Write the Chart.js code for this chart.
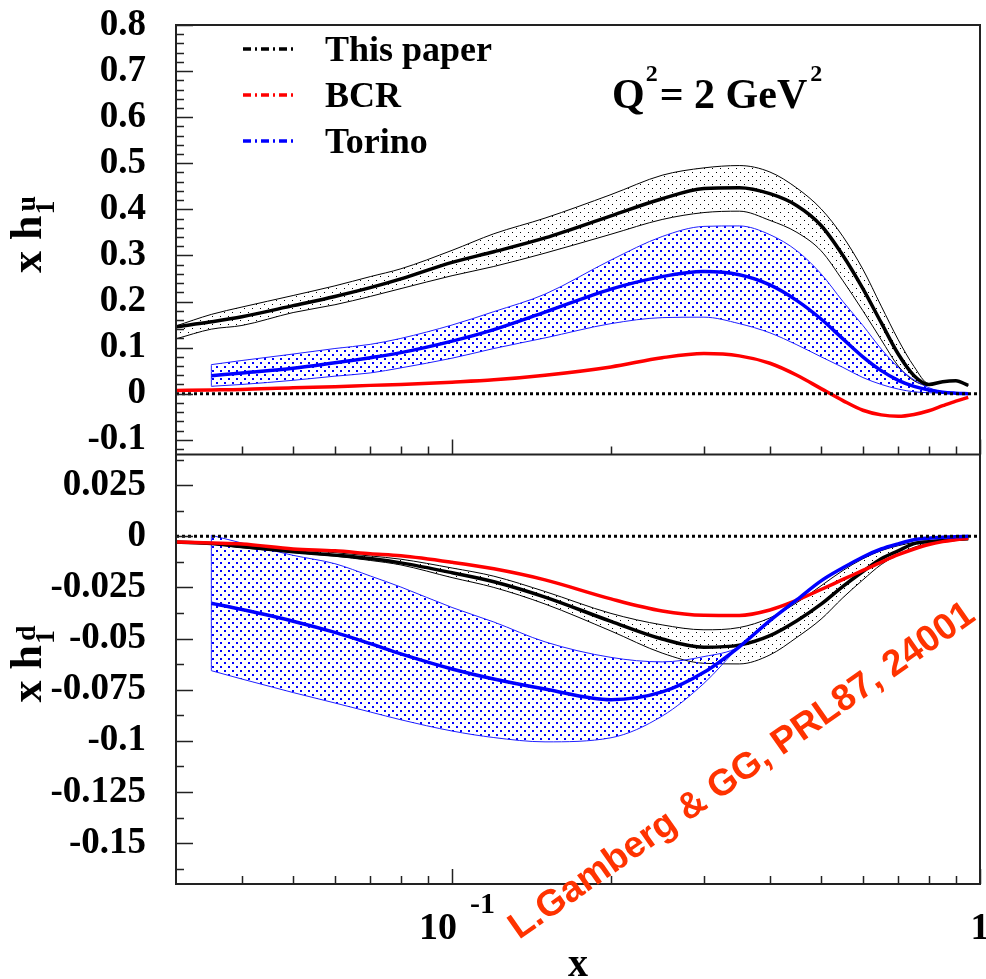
<!DOCTYPE html>
<html>
<head>
<meta charset="utf-8">
<script src="https://cdn.jsdelivr.net/npm/chart.js@4.4.1/dist/chart.umd.min.js"></script>
<style>
  html, body { margin: 0; padding: 0; background: #fff; }
  #wrap { width: 986px; height: 979px; }
</style>
</head>
<body>
<div id="wrap"><canvas id="chart" width="986" height="979"></canvas></div>
<script>
// x values (Bjorken x) shared by the curves
const xGrid = [0.03, 0.035, 0.04, 0.05, 0.06, 0.07, 0.08, 0.1, 0.12, 0.15, 0.2, 0.25, 0.3, 0.35,
               0.4, 0.45, 0.5, 0.55, 0.6, 0.65, 0.7, 0.75, 0.8, 0.85, 0.9, 0.95];
const xTorino = xGrid.slice(1);
const xRange = [0.03, 1];

// upper panel: x h1^u
const thisU   = [0.145, 0.156, 0.167, 0.191, 0.211, 0.230, 0.249, 0.285, 0.308, 0.338, 0.386, 0.423, 0.445, 0.447,
                 0.434, 0.408, 0.365, 0.300, 0.228, 0.154, 0.086, 0.039, 0.020, 0.026, 0.028, 0.018];
const thisUHi = [0.147, 0.172, 0.188, 0.213, 0.234, 0.254, 0.271, 0.311, 0.347, 0.381, 0.432, 0.474, 0.490, 0.495,
                 0.481, 0.446, 0.401, 0.341, 0.270, 0.190, 0.117, 0.059, 0.022, 0.026, 0.028, 0.018];
const thisULo = [0.119, 0.140, 0.148, 0.176, 0.193, 0.211, 0.228, 0.256, 0.276, 0.305, 0.346, 0.378, 0.393, 0.396,
                 0.376, 0.350, 0.310, 0.245, 0.180, 0.117, 0.060, 0.028, 0.018, 0.026, 0.028, 0.018];
const bcrU    = [0.007, 0.008, 0.009, 0.013, 0.015, 0.018, 0.020, 0.025, 0.030, 0.040, 0.058, 0.078, 0.087, 0.082,
                 0.066, 0.040, 0.011, -0.015, -0.036, -0.046, -0.049, -0.045, -0.037, -0.026, -0.016, -0.008];
const torU    = [0.039, 0.045, 0.055, 0.067, 0.078, 0.089, 0.114, 0.139, 0.177, 0.227, 0.254, 0.265, 0.258,
                 0.236, 0.202, 0.162, 0.119, 0.080, 0.050, 0.029, 0.016, 0.008, 0.003, 0.001, 0.000];
const torUHi  = [0.063, 0.072, 0.086, 0.098, 0.107, 0.120, 0.149, 0.178, 0.216, 0.290, 0.341, 0.363, 0.364,
                 0.345, 0.310, 0.260, 0.200, 0.148, 0.097, 0.057, 0.030, 0.013, 0.004, 0.001, 0.000];
const torULo  = [0.016, 0.020, 0.029, 0.038, 0.045, 0.056, 0.077, 0.098, 0.121, 0.152, 0.165, 0.166, 0.152,
                 0.132, 0.106, 0.080, 0.057, 0.035, 0.020, 0.010, 0.004, 0.002, 0.001, 0.000, 0.000];

// lower panel: x h1^d
const thisD   = [-0.0028, -0.0035, -0.0050, -0.0075, -0.0092, -0.0109, -0.0130, -0.0178, -0.0222, -0.0297, -0.0416, -0.0502, -0.0542, -0.0532,
                 -0.0486, -0.0413, -0.0332, -0.0245, -0.0172, -0.0110, -0.0071, -0.0036, -0.0026, -0.0020, -0.0015, -0.0012];
const thisDHi = [-0.0025, -0.0031, -0.0040, -0.0065, -0.0080, -0.0096, -0.0112, -0.0155, -0.0195, -0.0270, -0.0377, -0.0433, -0.0457, -0.0446,
                 -0.0399, -0.0324, -0.0242, -0.0167, -0.0110, -0.0070, -0.0046, -0.0030, -0.0022, -0.0020, -0.0015, -0.0012];
const thisDLo = [-0.0031, -0.0039, -0.0056, -0.0079, -0.0097, -0.0118, -0.0140, -0.0202, -0.0250, -0.0331, -0.0463, -0.0571, -0.0621, -0.0624,
                 -0.0580, -0.0494, -0.0405, -0.0300, -0.0213, -0.0138, -0.0090, -0.0054, -0.0035, -0.0024, -0.0016, -0.0012];
const bcrD    = [-0.0028, -0.0033, -0.0038, -0.0062, -0.0071, -0.0085, -0.0095, -0.0127, -0.0159, -0.0213, -0.0306, -0.0365, -0.0386, -0.0387,
                 -0.0360, -0.0312, -0.0260, -0.0211, -0.0167, -0.0126, -0.0090, -0.0062, -0.0040, -0.0026, -0.0017, -0.0010];
const torD    = [-0.0327, -0.0358, -0.0415, -0.0470, -0.0525, -0.0575, -0.0649, -0.0698, -0.0747, -0.0799, -0.0761, -0.0665, -0.0540,
                 -0.0412, -0.0310, -0.0218, -0.0154, -0.0101, -0.0062, -0.0037, -0.0017, -0.0009, -0.0005, -0.0002, 0];
const torDHi  = [0.0005, -0.0033, -0.0093, -0.0134, -0.0194, -0.0248, -0.0348, -0.0419, -0.0516, -0.0592, -0.0614, -0.0588, -0.0540,
                 -0.0412, -0.0310, -0.0218, -0.0154, -0.0101, -0.0062, -0.0037, -0.0017, -0.0009, -0.0005, -0.0002, 0];
const torDLo  = [-0.0657, -0.0698, -0.0764, -0.0815, -0.0859, -0.0897, -0.0952, -0.0984, -0.1005, -0.0985, -0.0879, -0.0719, -0.0540,
                 -0.0412, -0.0310, -0.0218, -0.0154, -0.0101, -0.0062, -0.0037, -0.0017, -0.0009, -0.0005, -0.0002, 0];

// axis ticks
const xMajorTicks = [0.1, 1];
const xMinorTicks = [0.04, 0.05, 0.06, 0.07, 0.08, 0.09, 0.2, 0.3, 0.4, 0.5, 0.6, 0.7, 0.8, 0.9];
const legendNames = ['This paper', 'BCR', 'Torino'];

const SERIF = "'Liberation Serif', 'Times New Roman', serif";
const SANS = "'Liberation Sans', Arial, sans-serif";

function makePattern(color, size, dots, dot) {
    const c = document.createElement('canvas');
    c.width = size;
    c.height = size;
    const g = c.getContext('2d');
    g.fillStyle = color;
    dots.forEach(([px, py]) => g.fillRect(px, py, dot, dot));
    return g.createPattern(c, 'repeat');
}
const blueHatch = makePattern('#0000ff', 8, [[0, 6], [4, 2]], 2);
const blackHatch = makePattern('#000000', 8, [[0, 0], [4, 4]], 1);

function pts(xs, ys) {
    return xs.map((x, i) => ({ x: x, y: ys[i] }));
}

function curve(label, data, yAxisID, color, width, order, extra) {
    return Object.assign({
        label: label,
        data: data,
        xAxisID: 'x',
        yAxisID: yAxisID,
        borderColor: color,
        backgroundColor: color,
        borderWidth: width,
        pointRadius: 0,
        fill: false,
        order: order,
        cubicInterpolationMode: 'monotone'
    }, extra || {});
}

function panel(axis, c, orders) {
    return [
        curve('This paper band', pts(xGrid, c.hi), axis, '#000', 1, orders.band1,
              { fill: '+1', backgroundColor: blackHatch }),
        curve('This paper band low', pts(xGrid, c.lo), axis, '#000', 1, orders.band1),
        curve('Torino band', pts(xTorino, c.tHi), axis, '#2020ff', 1, orders.band2,
              { fill: '+1', backgroundColor: blueHatch }),
        curve('Torino band low', pts(xTorino, c.tLo), axis, '#2020ff', 1, orders.band2),
        curve('Torino edge', [{ x: xTorino[0], y: c.tLo[0] }, { x: xTorino[0], y: c.tHi[0] }],
              axis, '#2020ff', 1, orders.band2),
        curve('BCR', pts(xGrid, c.bcr), axis, '#ff0000', 3.5, orders.red),
        curve('Torino', pts(xTorino, c.tor), axis, '#0000ff', 3.5, orders.blue),
        curve('This paper', pts(xGrid, c.mid), axis, '#000000', 3.5, orders.black),
        curve('zero', [{ x: xRange[0], y: 0 }, { x: xRange[1], y: 0 }], axis, '#000', 3, 0,
              { borderDash: [3, 3] })
    ];
}

const datasets = [].concat(
    panel('yU', { hi: thisUHi, lo: thisULo, tHi: torUHi, tLo: torULo, bcr: bcrU, tor: torU, mid: thisU },
          { black: 1, red: 2, blue: 3, band2: 4, band1: 5 }),
    panel('yD', { hi: thisDHi, lo: thisDLo, tHi: torDHi, tLo: torDLo, bcr: bcrD, tor: torD, mid: thisD },
          { blue: 1, red: 2, black: 3, band2: 4, band1: 5 })
);

// draws text pieces one after the other along the current baseline
function drawScript(ctx, x, y, parts) {
    let cx = x;
    parts.forEach(p => {
        ctx.font = 'bold ' + p.size + 'px ' + SERIF;
        ctx.fillText(p.text, cx, y + (p.dy || 0));
        cx += ctx.measureText(p.text).width;
    });
    return cx;
}

const decorations = {
    id: 'decorations',
    afterDraw(chart) {
        const ctx = chart.ctx;
        const a = chart.chartArea;
        const xs = chart.scales.x, yU = chart.scales.yU, yD = chart.scales.yD;
        ctx.save();

        // inward tick marks
        ctx.strokeStyle = '#222';
        ctx.lineWidth = 1.5;
        ctx.beginPath();
        const yTicks = (scale, step, majorEvery) => {
            const i0 = Math.ceil(scale.min / step - 1e-9), i1 = Math.floor(scale.max / step + 1e-9);
            for (let i = i0; i <= i1; i++) {
                const py = Math.round(scale.getPixelForValue(i * step)) + 0.5;
                const len = (i % majorEvery === 0) ? 17 : 8;
                ctx.moveTo(a.left, py);
                ctx.lineTo(a.left + len, py);
            }
        };
        yTicks(yU, 0.02, 5);
        yTicks(yD, 0.0125, 2);
        [yU.bottom, yD.bottom].forEach(base => {
            xMinorTicks.forEach(v => {
                const px = Math.round(xs.getPixelForValue(v)) + 0.5;
                ctx.moveTo(px, base);
                ctx.lineTo(px, base - 8);
            });
            xMajorTicks.forEach(v => {
                const px = Math.round(xs.getPixelForValue(v)) + 0.5;
                ctx.moveTo(px, base);
                ctx.lineTo(px, base - 15);
            });
        });
        ctx.stroke();

        // frame and panel separator
        ctx.lineWidth = 2;
        ctx.strokeRect(a.left, a.top, a.right - a.left, a.bottom - a.top);
        ctx.beginPath();
        ctx.moveTo(a.left, yU.bottom);
        ctx.lineTo(a.right, yU.bottom);
        ctx.stroke();

        ctx.fillStyle = '#000';
        ctx.textBaseline = 'alphabetic';

        // x axis labels
        const p01 = xs.getPixelForValue(xMajorTicks[0]);
        const p1 = xs.getPixelForValue(xMajorTicks[1]);
        ctx.font = 'bold 38px ' + SERIF;
        ctx.textAlign = 'right';
        ctx.fillText('10', p01 + 5, a.bottom + 55);
        ctx.textAlign = 'left';
        ctx.font = 'bold 30px ' + SERIF;
        ctx.fillText('-1', p01 + 18, a.bottom + 29);
        ctx.textAlign = 'center';
        ctx.font = 'bold 38px ' + SERIF;
        ctx.fillText('1', p1, a.bottom + 55);
        ctx.font = 'bold 40px ' + SERIF;
        ctx.fillText('x', 578, 976);

        // y axis titles
        ctx.textAlign = 'left';
        [[yU, 'u'], [yD, 'd']].forEach(([scale, q]) => {
            ctx.save();
            ctx.translate(41, scale.top + 248);
            ctx.rotate(-Math.PI / 2);
            const end = drawScript(ctx, 0, 0, [{ text: 'x h', size: 44 }]);
            drawScript(ctx, end + 1, 0, [{ text: '1', size: 28, dy: 13 }]);
            drawScript(ctx, end + 4, 0, [{ text: q, size: 28, dy: -6 }]);
            ctx.restore();
        });

        // legend
        const colors = ['#000', '#ff0000', '#0000ff'];
        const rows = [61, 107, 153];
        legendNames.forEach((name, i) => {
            ctx.strokeStyle = colors[i];
            ctx.lineWidth = 3.5;
            ctx.setLineDash([8, 4, 2, 4]);
            ctx.beginPath();
            ctx.moveTo(243, rows[i] - 12);
            ctx.lineTo(293, rows[i] - 12);
            ctx.stroke();
            ctx.setLineDash([]);
            ctx.font = 'bold 36px ' + SERIF;
            ctx.fillText(name, 325, rows[i]);
        });

        // Q^2 label
        let cx = drawScript(ctx, 612, 108, [{ text: 'Q', size: 42 }]);
        cx = drawScript(ctx, cx + 1, 81, [{ text: '2', size: 24 }]);
        cx = drawScript(ctx, cx + 2, 108, [{ text: '= 2 GeV', size: 42 }]);
        drawScript(ctx, cx + 3, 81, [{ text: '2', size: 24 }]);

        // reference stamp
        ctx.save();
        ctx.translate(519, 940);
        ctx.rotate(-35 * Math.PI / 180);
        ctx.fillStyle = '#ff3300';
        ctx.font = 'bold 37px ' + SANS;
        ctx.fillText('L.Gamberg & GG, PRL87, 24001', 0, 0);
        ctx.restore();

        ctx.restore();
    }
};

const tickFont = { family: SERIF, weight: 'bold', size: 37, lineHeight: 1 };

// keep the label padding from pushing the plot area down
function fixY(s) {
    s.width = 176;
    s.paddingTop = 0;
    s.paddingBottom = 0;
}

new Chart(document.getElementById('chart'), {
    type: 'line',
    data: { datasets: datasets },
    options: {
        responsive: false,
        devicePixelRatio: 1,
        animation: false,
        events: [],
        layout: { padding: { top: 25, right: 6, bottom: 0, left: 0 } },
        plugins: { legend: { display: false }, tooltip: { enabled: false } },
        scales: {
            x: {
                type: 'logarithmic',
                min: xRange[0],
                max: xRange[1],
                position: 'bottom',
                grid: { display: false },
                border: { display: false },
                ticks: { display: false },
                afterFit: s => { s.height = 95; }
            },
            yU: {
                type: 'linear',
                position: 'left',
                stack: 'panels',
                stackWeight: 1,
                weight: 2,
                min: -0.132,
                max: 0.8,
                grid: { display: false },
                border: { display: false },
                ticks: {
                    stepSize: 0.1,
                    includeBounds: false,
                    autoSkip: false,
                    padding: 22,
                    color: '#000',
                    font: tickFont,
                    callback: v => String(Math.round(v * 1000) / 1000)
                },
                afterFit: fixY
            },
            yD: {
                type: 'linear',
                position: 'left',
                stack: 'panels',
                stackWeight: 1,
                weight: 1,
                min: -0.170,
                max: 0.040,
                grid: { display: false },
                border: { display: false },
                ticks: {
                    stepSize: 0.025,
                    includeBounds: false,
                    autoSkip: false,
                    padding: 22,
                    color: '#000',
                    font: tickFont,
                    callback: v => String(Math.round(v * 10000) / 10000)
                },
                afterFit: fixY
            }
        }
    },
    plugins: [decorations]
});
</script>
</body>
</html>
